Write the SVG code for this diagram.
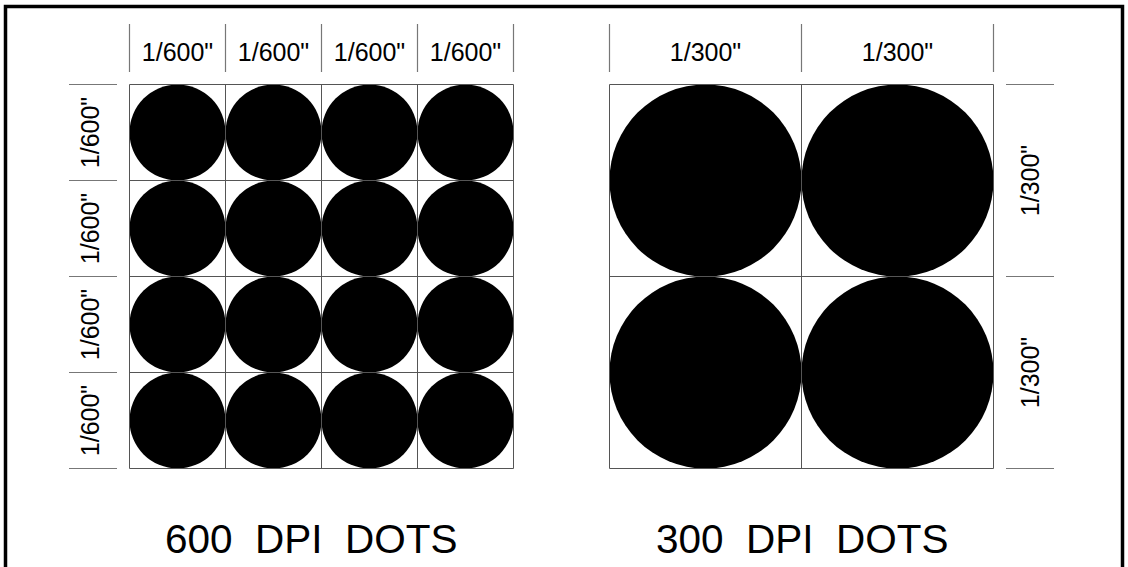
<svg xmlns="http://www.w3.org/2000/svg" width="1128" height="567" viewBox="0 0 1128 567">
<style>
.grid{fill:none;stroke:#555;stroke-width:1}
.tick{stroke:#777;stroke-width:1.2}
.dot{fill:#000}
.lbl{font-family:"Liberation Sans",Arial,sans-serif;font-size:25px;fill:#000;text-anchor:middle}
.title{font-family:"Liberation Sans",Arial,sans-serif;font-size:40.5px;fill:#000;white-space:pre}
</style>
<rect x="0" y="0" width="1128" height="567" fill="#fff"/>
<rect id="frame" x="5.5" y="6.5" width="1117" height="620" fill="none" stroke="#000" stroke-width="3.5"/>

<g id="grid600">
  <g id="dots600">
    <circle class="dot" cx="177.5" cy="132.5" r="48"/><circle class="dot" cx="273.5" cy="132.5" r="48"/><circle class="dot" cx="369.5" cy="132.5" r="48"/><circle class="dot" cx="465.5" cy="132.5" r="48"/>
    <circle class="dot" cx="177.5" cy="228.5" r="48"/><circle class="dot" cx="273.5" cy="228.5" r="48"/><circle class="dot" cx="369.5" cy="228.5" r="48"/><circle class="dot" cx="465.5" cy="228.5" r="48"/>
    <circle class="dot" cx="177.5" cy="324.5" r="48"/><circle class="dot" cx="273.5" cy="324.5" r="48"/><circle class="dot" cx="369.5" cy="324.5" r="48"/><circle class="dot" cx="465.5" cy="324.5" r="48"/>
    <circle class="dot" cx="177.5" cy="420.5" r="48"/><circle class="dot" cx="273.5" cy="420.5" r="48"/><circle class="dot" cx="369.5" cy="420.5" r="48"/><circle class="dot" cx="465.5" cy="420.5" r="48"/>
  </g>
  <path class="grid" d="M129.5 84.5H513.5V468.5H129.5Z M225.5 84.5V468.5 M321.5 84.5V468.5 M417.5 84.5V468.5 M129.5 180.5H513.5 M129.5 276.5H513.5 M129.5 372.5H513.5"/>
</g>

<g id="grid300">
  <g id="dots300">
    <circle class="dot" cx="705.5" cy="180.5" r="96"/><circle class="dot" cx="897.5" cy="180.5" r="96"/>
    <circle class="dot" cx="705.5" cy="372.5" r="96"/><circle class="dot" cx="897.5" cy="372.5" r="96"/>
  </g>
  <path class="grid" d="M609.5 84.5H993.5V468.5H609.5Z M801.5 84.5V468.5 M609.5 276.5H993.5"/>
</g>

<g id="ticks">
  <path class="tick" d="M129.5 24V72 M225.5 24V72 M321.5 24V72 M417.5 24V72 M513.5 24V72"/>
  <path class="tick" d="M69 84.5H117 M69 180.5H117 M69 276.5H117 M69 372.5H117 M69 468.5H117"/>
  <path class="tick" d="M609.5 24V72 M801.5 24V72 M993.5 24V72"/>
  <path class="tick" d="M1006 84.5H1054 M1006 276.5H1054 M1006 468.5H1054"/>
</g>

<g id="labels600">
  <text class="lbl" x="177.5" y="61">1/600"</text>
  <text class="lbl" x="273.5" y="61">1/600"</text>
  <text class="lbl" x="369.5" y="61">1/600"</text>
  <text class="lbl" x="465.5" y="61">1/600"</text>
  <text class="lbl" transform="translate(99,132.5) rotate(-90)">1/600"</text>
  <text class="lbl" transform="translate(99,228.5) rotate(-90)">1/600"</text>
  <text class="lbl" transform="translate(99,324.5) rotate(-90)">1/600"</text>
  <text class="lbl" transform="translate(99,420.5) rotate(-90)">1/600"</text>
</g>

<g id="labels300">
  <text class="lbl" x="705.5" y="61">1/300"</text>
  <text class="lbl" x="897.5" y="61">1/300"</text>
  <text class="lbl" transform="translate(1039,180.5) rotate(-90)">1/300"</text>
  <text class="lbl" transform="translate(1039,372.5) rotate(-90)">1/300"</text>
</g>

<g id="titles">
  <text class="title" x="165" y="553">600  DPI  DOTS</text>
  <text class="title" x="656" y="553">300  DPI  DOTS</text>
</g>
</svg>
